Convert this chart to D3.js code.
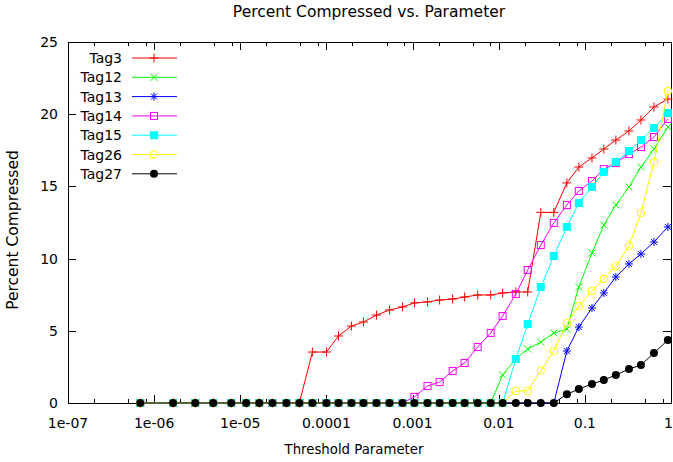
<!DOCTYPE html>
<html>
<head>
<meta charset="utf-8">
<script src="https://cdn.jsdelivr.net/npm/d3@7"></script>
<style>
  body { margin: 0; background: #fff; }
  text { font-family: "DejaVu Sans", sans-serif; font-size: 14px; fill: #000; }
</style>
</head>
<body>
<div class="chart"></div>
<script>
// threshold values (x)
let thresholds = [6.9e-7, 1.66e-6, 3.0e-6, 4.85e-6, 7.85e-6, 1.17e-5, 1.66e-5, 2.36e-5, 3.43e-5, 4.85e-5,
  6.87e-5, 1.0e-4, 1.38e-4, 1.95e-4, 2.69e-4, 3.81e-4, 5.4e-4, 7.65e-4, 1.05e-3, 1.49e-3,
  2.06e-3, 2.92e-3, 4.02e-3, 5.7e-3, 8.07e-3, 1.11e-2, 1.58e-2, 2.17e-2, 3.08e-2, 4.36e-2,
  6.18e-2, 8.51e-2, 0.121, 0.166, 0.229, 0.325, 0.448, 0.634, 0.92]

let tag3 = [0, 0, 0, 0, 0, 0, 0, 0, 0, 0,
  3.53, 3.53, 4.64, 5.33, 5.61, 6.09, 6.44, 6.65, 6.93, 7.0,
  7.13, 7.2, 7.34, 7.48, 7.48, 7.62, 7.69, 7.69, 13.2, 13.2,
  15.24, 16.34, 16.97, 17.59, 18.21, 18.84, 19.6, 20.5, 21.05]
let tag12 = [0, 0, 0, 0, 0, 0, 0, 0, 0, 0,
  0, 0, 0, 0, 0, 0, 0, 0, 0, 0,
  0, 0, 0, 0, 0, 1.94, 3.05, 3.74, 4.22, 4.85,
  5.12, 8.03, 10.39, 12.33, 13.71, 14.96, 16.34, 17.59, 19.11]
let tag13 = [0, 0, 0, 0, 0, 0, 0, 0, 0, 0,
  0, 0, 0, 0, 0, 0, 0, 0, 0, 0,
  0, 0, 0, 0, 0, 0, 0, 0, 0, 0,
  3.6, 5.26, 6.58, 7.62, 8.73, 9.63, 10.32, 11.15, 12.19]
let tag14 = [0, 0, 0, 0, 0, 0, 0, 0, 0, 0,
  0, 0, 0, 0, 0, 0, 0, 0, 0.42, 1.18,
  1.45, 2.22, 2.77, 3.88, 4.85, 6.02, 7.55, 9.21, 10.94, 12.47,
  13.71, 14.68, 15.37, 16.2, 16.62, 17.24, 17.73, 18.42, 19.67]
let tag15 = [0, 0, 0, 0, 0, 0, 0, 0, 0, 0,
  0, 0, 0, 0, 0, 0, 0, 0, 0, 0,
  0, 0, 0, 0, 0, 0, 3.05, 5.47, 8.03, 10.18,
  12.19, 13.85, 14.96, 16.0, 16.69, 17.45, 18.21, 19.04, 20.08]
let tag26 = [0, 0, 0, 0, 0, 0, 0, 0, 0, 0,
  0, 0, 0, 0, 0, 0, 0, 0, 0, 0,
  0, 0, 0, 0, 0, 0, 0.83, 0.83, 2.25, 3.6,
  5.54, 6.72, 7.76, 8.59, 9.49, 10.87, 13.16, 16.69, 21.6]
let tag27 = [0, 0, 0, 0, 0, 0, 0, 0, 0, 0,
  0, 0, 0, 0, 0, 0, 0, 0, 0, 0,
  0, 0, 0, 0, 0, 0, 0, 0, 0, 0,
  0.6, 0.97, 1.32, 1.59, 1.94, 2.35, 2.63, 3.46, 4.36]

let seriesNames = ['Tag3', 'Tag12', 'Tag13', 'Tag14', 'Tag15', 'Tag26', 'Tag27']
let seriesValues = [tag3, tag12, tag13, tag14, tag15, tag26, tag27]
let seriesColors = ['#ff0000', '#00ff00', '#0000ff', '#ff00ff', '#00ffff', '#ffff00', '#000000']
let seriesMarks = ['plus', 'cross', 'star', 'box', 'boxfill', 'circle', 'dot']

let xTickValues = [1e-7, 1e-6, 1e-5, 1e-4, 1e-3, 1e-2, 1e-1, 1]
let xTickLabels = ['1e-07', '1e-06', '1e-05', '0.0001', '0.001', '0.01', '0.1', '1']
let yTickValues = [0, 5, 10, 15, 20, 25]

let margin = { top: 42, right: 2, bottom: 59, left: 68 }
let fullWidth = 673, fullHeight = 462
let width = fullWidth - margin.left - margin.right
let height = fullHeight - margin.top - margin.bottom

let svg = d3.select('.chart')
  .append('svg')
    .attr('width', fullWidth)
    .attr('height', fullHeight)

let g = svg.append('g')
  .attr('transform', `translate(${margin.left}, ${margin.top})`)

let xScale = d3.scaleLog().domain([1e-7, 1]).range([0, width])
let yScale = d3.scaleLinear().domain([0, 25]).range([height, 0])

// minor ticks at 2, 5, 8 of each decade
let minorTicks = []
xTickValues.slice(0, -1).forEach(v => [2, 5, 8].forEach(m => minorTicks.push(v * m)))

// --> ticks, inward on all four sides
let tickG = g.append('g').attr('stroke', '#000').attr('stroke-width', 1)
xTickValues.forEach(v => {
  let x = Math.round(xScale(v)) + 0.5
  tickG.append('line').attr('x1', x).attr('x2', x).attr('y1', height).attr('y2', height - 8)
  tickG.append('line').attr('x1', x).attr('x2', x).attr('y1', 0).attr('y2', 8)
})
minorTicks.forEach(v => {
  let x = Math.round(xScale(v)) + 0.5
  tickG.append('line').attr('x1', x).attr('x2', x).attr('y1', height).attr('y2', height - 4)
  tickG.append('line').attr('x1', x).attr('x2', x).attr('y1', 0).attr('y2', 4)
})
yTickValues.forEach(v => {
  let y = Math.round(yScale(v)) + 0.5
  tickG.append('line').attr('x1', 0).attr('x2', 8).attr('y1', y).attr('y2', y)
  tickG.append('line').attr('x1', width).attr('x2', width - 8).attr('y1', y).attr('y2', y)
})

// tick labels (last one pulled inside the page edge)
g.selectAll('.xlab')
  .data(xTickValues)
  .enter()
  .append('text')
    .attr('x', (d, i) => i === xTickValues.length - 1 ? xScale(d) + 2 : xScale(d))
    .attr('y', height + 25)
    .attr('text-anchor', (d, i) => i === xTickValues.length - 1 ? 'end' : 'middle')
    .text((d, i) => xTickLabels[i])

g.selectAll('.ylab')
  .data(yTickValues)
  .enter()
  .append('text')
    .attr('x', -10)
    .attr('y', d => yScale(d) + 5)
    .attr('text-anchor', 'end')
    .text(d => d)

// border
g.append('rect')
  .attr('x', 0.5).attr('y', 0.5)
  .attr('width', width).attr('height', height)
  .attr('fill', 'none')
  .attr('stroke', '#000')

// titles
svg.append('text')
  .attr('x', 369).attr('y', 17)
  .attr('text-anchor', 'middle')
  .style('font-size', '15.5px')
  .text('Percent Compressed vs. Parameter')
svg.append('text')
  .attr('x', 354).attr('y', 454)
  .attr('text-anchor', 'middle')
  .style('font-size', '13.3px')
  .text('Threshold Parameter')
svg.append('text')
  .attr('transform', 'translate(18, 230) rotate(-90)')
  .attr('text-anchor', 'middle')
  .style('font-size', '15.5px')
  .text('Percent Compressed')

function drawMark(sel, kind, color) {
  if (kind === 'plus') {
    sel.append('path').attr('d', 'M-4.5,0H4.5M0,-4.5V4.5').attr('stroke', color).attr('fill', 'none')
  } else if (kind === 'cross') {
    sel.append('path').attr('d', 'M-3.5,-3.5L3.5,3.5M-3.5,3.5L3.5,-3.5').attr('stroke', color).attr('fill', 'none')
  } else if (kind === 'star') {
    sel.append('path').attr('d', 'M-4,0H4M0,-4V4M-3,-3L3,3M-3,3L3,-3').attr('stroke', color).attr('fill', 'none')
  } else if (kind === 'box') {
    sel.append('rect').attr('x', -3.5).attr('y', -3.5).attr('width', 7).attr('height', 7)
      .attr('stroke', color).attr('fill', 'none')
  } else if (kind === 'boxfill') {
    sel.append('rect').attr('x', -4).attr('y', -4).attr('width', 8).attr('height', 8).attr('fill', color)
  } else if (kind === 'circle') {
    sel.append('circle').attr('r', 3.8).attr('stroke', color).attr('fill', 'none')
  } else {
    sel.append('circle').attr('r', 4).attr('fill', color)
  }
}

let line = d3.line()
  .x((d, i) => xScale(thresholds[i]))
  .y(d => yScale(d))

// ******************************************************
seriesValues.forEach((vals, s) => {
  let sg = g.append('g')
  sg.append('path')
    .attr('d', line(vals))
    .attr('fill', 'none')
    .attr('stroke', seriesColors[s])
    .attr('stroke-width', 1)
  sg.selectAll('g.pt')
    .data(vals)
    .enter()
    .append('g')
      .attr('transform', (d, i) => `translate(${xScale(thresholds[i])}, ${yScale(d)})`)
      .each(function () { drawMark(d3.select(this), seriesMarks[s], seriesColors[s]) })
})

// legend
let legend = svg.append('g')
seriesNames.forEach((name, i) => {
  let y = 58 + i * 19.3
  legend.append('text')
    .attr('x', 122).attr('y', y + 5)
    .attr('text-anchor', 'end')
    .text(name)
  legend.append('line')
    .attr('x1', 132).attr('x2', 177).attr('y1', y).attr('y2', y)
    .attr('stroke', seriesColors[i])
  let m = legend.append('g').attr('transform', `translate(154, ${y})`)
  drawMark(m, seriesMarks[i], seriesColors[i])
})
</script>
</body>
</html>
